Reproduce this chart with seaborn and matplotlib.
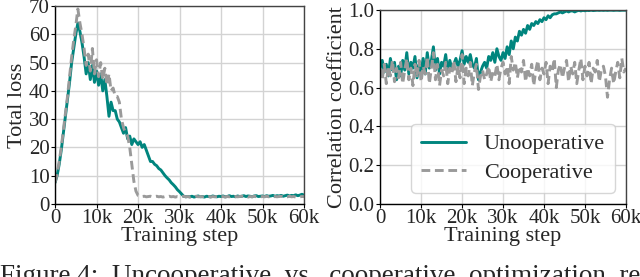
import numpy as np
import pandas as pd
import matplotlib
matplotlib.use("Agg")
import matplotlib.pyplot as plt
import seaborn as sns

# values, one every 500 steps (0 .. 60k)
STEP = 500

loss_uncoop = [
    7.5, 10, 14, 19, 25, 31, 37, 43, 50, 55,
    60, 64, 61, 57, 52, 46, 50, 44, 49, 43,
    47, 42, 46, 40, 44, 38, 31, 36, 33, 33,
    30, 29, 27, 25, 27, 23, 24, 21, 23, 22,
    21, 22, 20, 21, 19, 17, 15, 15, 14, 13.5,
    12.5, 12, 11, 10, 9.2, 8.5, 7.5, 6.8, 6, 5,
    4.3, 3.5, 2.7, 2.5, 2.6, 2.5, 2.7, 2.4, 2.6, 2.8,
    2.5, 2.6, 2.4, 2.7, 2.6, 2.5, 2.8, 2.6, 2.5, 2.7,
    2.6, 2.8, 2.5, 2.6, 2.9, 2.6, 2.7, 2.5, 2.8, 2.6,
    2.7, 2.9, 2.6, 2.8, 2.7, 2.5, 2.8, 2.9, 2.6, 2.7,
    2.8, 2.6, 2.9, 2.7, 2.8, 3.0, 2.7, 2.9, 2.8, 3.0,
    2.7, 2.9, 3.1, 2.8, 3.0, 2.9, 3.2, 2.9, 3.1, 3.4,
    3.1,
]

loss_coop = [
    7.5, 10.5, 15, 20, 26, 32, 38, 45, 52, 58,
    63, 69, 64, 60, 55, 49, 53, 47, 55, 46,
    51, 45, 50, 44, 48, 42, 46, 40, 41, 38,
    38, 36, 30, 27, 25, 24, 20, 14, 8, 4.5,
    3.0, 2.8, 2.6, 2.7, 2.5, 2.6, 2.7, 2.5, 2.6, 2.7,
    2.5, 2.6, 2.4, 2.6, 2.5, 2.7, 2.5, 2.6, 2.4, 2.6,
    2.5, 2.6, 2.7, 2.5, 2.6, 2.4, 2.6, 2.5, 2.7, 2.5,
    2.6, 2.5, 2.7, 2.5, 2.6, 2.4, 2.6, 2.5, 2.6, 2.7,
    2.5, 2.6, 2.4, 2.6, 2.5, 2.7, 2.5, 2.6, 2.5, 2.6,
    2.7, 2.5, 2.6, 2.4, 2.6, 2.5, 2.7, 2.5, 2.6, 2.5,
    2.6, 2.5, 2.7, 2.5, 2.6, 2.4, 2.6, 2.5, 2.6, 2.7,
    2.5, 2.6, 2.5, 2.7, 2.5, 2.6, 2.4, 2.6, 2.5, 2.6,
    2.6,
]

corr_uncoop = [
    0.70, 0.74, 0.68, 0.72, 0.66, 0.75, 0.69, 0.73, 0.64, 0.71,
    0.66, 0.74, 0.69, 0.78, 0.67, 0.73, 0.70, 0.76, 0.65, 0.72,
    0.68, 0.75, 0.67, 0.78, 0.70, 0.74, 0.81, 0.69, 0.75, 0.67,
    0.73, 0.71, 0.77, 0.68, 0.74, 0.70, 0.72, 0.75, 0.71, 0.74,
    0.79, 0.72, 0.76, 0.73, 0.77, 0.72, 0.70, 0.75, 0.64, 0.68,
    0.71, 0.73, 0.70, 0.76, 0.74, 0.78, 0.73, 0.80, 0.76, 0.74,
    0.78, 0.75, 0.81, 0.77, 0.84, 0.80, 0.86, 0.84, 0.89, 0.87,
    0.90, 0.88, 0.92, 0.90, 0.93, 0.92, 0.94, 0.93, 0.95, 0.94,
    0.96, 0.95, 0.97, 0.96, 0.975, 0.98, 0.98, 0.985, 0.99, 0.985,
    0.99, 0.995, 0.99, 0.995, 0.995, 0.99, 0.995, 0.998, 0.995, 0.998,
    0.996, 0.998, 0.997, 0.999, 0.997, 0.998, 0.999, 0.998, 0.999, 0.998,
    0.999, 0.998, 0.999, 0.999, 0.998, 0.999, 0.999, 0.998, 0.999, 0.999,
    0.999,
]

corr_coop = [
    0.70, 0.64, 0.72, 0.62, 0.71, 0.66, 0.74, 0.63, 0.70, 0.65,
    0.73, 0.62, 0.69, 0.75, 0.64, 0.70, 0.61, 0.72, 0.66, 0.74,
    0.63, 0.71, 0.67, 0.76, 0.62, 0.70, 0.78, 0.64, 0.72, 0.61,
    0.69, 0.66, 0.73, 0.62, 0.70, 0.67, 0.74, 0.63, 0.71, 0.65,
    0.77, 0.62, 0.70, 0.66, 0.73, 0.61, 0.68, 0.72, 0.59, 0.66,
    0.69, 0.64, 0.67, 0.71, 0.63, 0.68, 0.66, 0.72, 0.64, 0.70,
    0.73, 0.67, 0.71, 0.62, 0.76, 0.69, 0.73, 0.65, 0.71, 0.68,
    0.74, 0.63, 0.70, 0.66, 0.72, 0.61, 0.69, 0.74, 0.64, 0.70,
    0.67, 0.73, 0.62, 0.71, 0.68, 0.75, 0.60, 0.69, 0.72, 0.65,
    0.70, 0.74, 0.63, 0.71, 0.67, 0.73, 0.62, 0.69, 0.75, 0.64,
    0.71, 0.66, 0.73, 0.62, 0.70, 0.68, 0.74, 0.63, 0.69, 0.71,
    0.66, 0.55, 0.64, 0.70, 0.62, 0.68, 0.73, 0.65, 0.75, 0.68,
    0.70,
]

x_ticks = [0, 10000, 20000, 30000, 40000, 50000, 60000]
x_tick_labels = ["0", "10k", "20k", "30k", "40k", "50k", "60k"]

labels = ["Unooperative", "Cooperative"]
TEAL = "#00857e"
GRAY = "#9a9a9a"

TICK_FS = 15
LABEL_FS = 16
LW = 2.1


def make_frame(uncoop, coop):
    rows = []
    for name, vals in zip(labels, [uncoop, coop]):
        for i, v in enumerate(vals):
            rows.append({"step": i * STEP, "value": v, "run": name})
    return pd.DataFrame(rows)


def style_axes(ax):
    ax.set_xlim(0, 60000)
    ax.set_xticks(x_ticks)
    ax.set_xticklabels(x_tick_labels)
    ax.grid(True, color="#d3d3d3", linewidth=1.0)
    ax.tick_params(axis="both", length=3, width=0.8, color="black",
                   labelsize=TICK_FS, pad=1, direction="out", bottom=True, left=True)
    for side in ["left", "bottom"]:
        ax.spines[side].set_color("black")
        ax.spines[side].set_linewidth(1.0)
    for side in ["top", "right"]:
        ax.spines[side].set_color("#444444")
        ax.spines[side].set_linewidth(1.0)
    ax.set_xlabel("Training step", fontsize=LABEL_FS, labelpad=-1)


sns.set_style("whitegrid")
plt.rcParams["font.family"] = ["Liberation Serif", "DejaVu Serif"]

fig = plt.figure(figsize=(6.4, 2.77), dpi=100)
ax1 = fig.add_axes([0.086, 0.264, 0.389, 0.714])
ax2 = fig.add_axes([0.594, 0.264, 0.384, 0.700])

palette = {labels[0]: TEAL, labels[1]: GRAY}
dashes = {labels[0]: "", labels[1]: (3, 1.6)}

loss_df = make_frame(loss_uncoop, loss_coop)
sns.lineplot(data=loss_df, x="step", y="value", hue="run", style="run",
             palette=palette, dashes=dashes, linewidth=LW, ax=ax1, legend=False)
ax1.set_ylim(0, 70)
ax1.set_yticks(range(0, 71, 10))
style_axes(ax1)
ax1.set_ylabel("Total loss", fontsize=LABEL_FS, labelpad=1)

corr_df = make_frame(corr_uncoop, corr_coop)
sns.lineplot(data=corr_df, x="step", y="value", hue="run", style="run",
             palette=palette, dashes=dashes, linewidth=LW, ax=ax2)
ax2.set_ylim(0, 1.0)
ax2.set_yticks([0.0, 0.2, 0.4, 0.6, 0.8, 1.0])
ax2.set_yticklabels(["0.0", "0.2", "0.4", "0.6", "0.8", "1.0"])
style_axes(ax2)
ax2.set_ylabel("Correlation coefficient", fontsize=LABEL_FS, labelpad=1)

leg = ax2.legend(loc="lower right", fontsize=LABEL_FS, frameon=True,
                 handlelength=2.0, borderaxespad=0.5, labelspacing=0.35,
                 borderpad=0.45)
leg.get_frame().set_edgecolor("#cccccc")
for line in leg.get_lines():
    line.set_linewidth(LW)

fig.text(0.0, -0.022, "Figure 4:  Uncooperative  vs.  cooperative  optimization  re",
         fontsize=19.5, ha="left", va="baseline")

fig.savefig("out.png", dpi=100)
